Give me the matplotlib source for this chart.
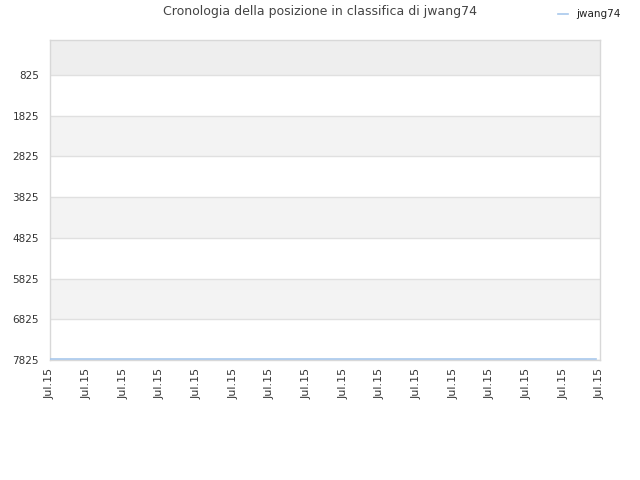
import matplotlib
matplotlib.use("Agg")
import matplotlib.pyplot as plt

# data
days = list(range(16))
tick_labels = ["Jul.15"] * 16
ranks = [7810] * 16
rank_ticks = [825, 1825, 2825, 3825, 4825, 5825, 6825, 7825]

fig = plt.figure(figsize=(6.4, 4.8), dpi=100)
ax = fig.add_axes([50 / 640, 1 - 360 / 480, 550 / 640, 320 / 480])

top = -35
bottom = 7825
ax.set_ylim(bottom, top)
ax.set_xlim(0, 15)

# background bands
ax.axhspan(top, rank_ticks[0], color="#eeeeee", zorder=0, lw=0)
for i in range(len(rank_ticks) - 1):
    c = "#ffffff" if i % 2 == 0 else "#f3f3f3"
    ax.axhspan(rank_ticks[i], rank_ticks[i + 1], color=c, zorder=0, lw=0)
for r in rank_ticks:
    ax.axhline(r, color="#e0e0e0", lw=1, zorder=1)

ax.plot([d * 14.9 / 15 for d in days], ranks, color="#a8c8ec", lw=1.2, zorder=3, label="jwang74")

ax.set_yticks(rank_ticks)
ax.set_yticklabels([str(r) for r in rank_ticks])
ax.set_xticks(days)
ax.set_xticklabels(tick_labels, rotation=90)
ax.tick_params(axis="y", length=0, labelsize=7.5, colors="#333333", pad=8)
ax.tick_params(axis="x", length=0, labelsize=8, colors="#333333", pad=6)

for s in ax.spines.values():
    s.set_color("#d8d8d8")
    s.set_linewidth(1)

fig.text(0.5, 1 - 12 / 480, "Cronologia della posizione in classifica di jwang74",
         ha="center", va="center", fontsize=9, color="#444444")

fig.legend(loc="upper right", bbox_to_anchor=(0.985, 1.0), frameon=False, fontsize=7.5,
           handlelength=1.0, labelcolor="#222222")

fig.savefig("out.png", dpi=100)
